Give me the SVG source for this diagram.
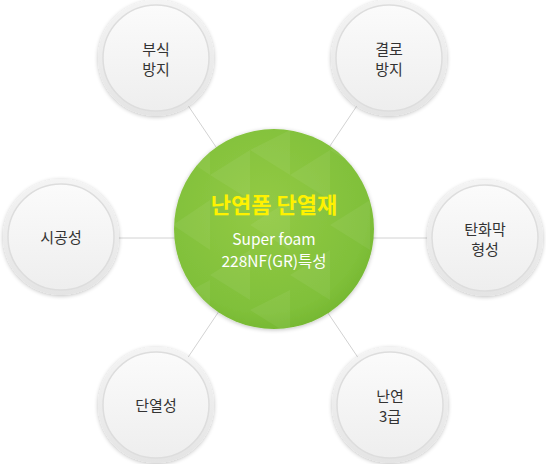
<svg xmlns="http://www.w3.org/2000/svg" width="546" height="464" viewBox="0 0 546 464">
<defs>
<radialGradient id="gBig" cx="0.45" cy="0.4" r="0.65">
<stop offset="0" stop-color="#93ca45"/>
<stop offset="0.8" stop-color="#80c03a"/>
<stop offset="1" stop-color="#72b52f"/>
</radialGradient>
<linearGradient id="gOut" x1="0" y1="0" x2="0" y2="1">
<stop offset="0" stop-color="#f4f4f4"/>
<stop offset="1" stop-color="#e4e4e4"/>
</linearGradient>
<linearGradient id="gIn" x1="0" y1="0" x2="0" y2="1">
<stop offset="0" stop-color="#fbfbfb"/>
<stop offset="1" stop-color="#eeeeee"/>
</linearGradient>
<filter id="sh" x="-20%" y="-20%" width="140%" height="140%">
<feGaussianBlur in="SourceAlpha" stdDeviation="2"/>
<feOffset dy="1"/>
<feComponentTransfer><feFuncA type="linear" slope="0.25"/></feComponentTransfer>
<feMerge><feMergeNode/><feMergeNode in="SourceGraphic"/></feMerge>
</filter>
<clipPath id="cBig"><circle cx="274" cy="229" r="100"/></clipPath>
<g id="node">
<circle r="58" fill="url(#gOut)" filter="url(#sh)"/>
<circle r="53" fill="url(#gIn)" stroke="#dddddd" stroke-width="1.5"/>
</g>
</defs>
<style>
.con{stroke:#d2d2d2;stroke-width:1;fill:none}
.lbl{font-family:"Noto Sans CJK KR","Noto Sans",sans-serif;font-size:15px;fill:#333;text-anchor:middle}
.tri{fill:#ffffff;opacity:0.06}
</style>
<g id="connectors">
<line class="con" x1="118" y1="238" x2="430" y2="238"/>
<line class="con" x1="156" y1="58" x2="390" y2="405"/>
<line class="con" x1="389" y1="58" x2="156" y2="405"/>
</g>
<g id="center">
<circle cx="274" cy="229" r="100" fill="url(#gBig)" filter="url(#sh)"/>
<g clip-path="url(#cBig)">
<polygon class="tri" points="173,150 210,130 210,175"/>
<polygon class="tri" points="210,175 250,150 250,200"/>
<polygon class="tri" points="250,150 290,130 290,175"/>
<polygon class="tri" points="290,175 330,150 330,200"/>
<polygon class="tri" points="330,150 370,130 370,175"/>
<polygon class="tri" points="173,225 210,200 210,250"/>
<polygon class="tri" points="250,225 290,200 290,250"/>
<polygon class="tri" points="330,225 370,200 370,250"/>
<polygon class="tri" points="210,275 250,250 250,300"/>
<polygon class="tri" points="290,275 330,250 330,300"/>
<polygon class="tri" points="173,300 210,280 210,330"/>
<polygon class="tri" points="250,310 290,290 290,335"/>
<polygon class="tri" points="330,310 370,290 370,335"/>
</g>
<text x="274" y="213" font-family="'Noto Sans CJK KR','Noto Sans',sans-serif" font-size="22" font-weight="bold" fill="#fff200" text-anchor="middle">난연폼 단열재</text>
<text x="274" y="245" font-family="'Noto Sans CJK KR','Noto Sans',sans-serif" font-size="15.5" fill="#ffffff" text-anchor="middle">Super foam</text>
<text x="274" y="267" font-family="'Noto Sans CJK KR','Noto Sans',sans-serif" font-size="15.5" fill="#ffffff" text-anchor="middle">228NF(GR)특성</text>
</g>
<g id="n1" transform="translate(156,58)">
<use href="#node"/>
<text class="lbl" y="-3">부식</text>
<text class="lbl" y="17">방지</text>
</g>
<g id="n2" transform="translate(389,58)">
<use href="#node"/>
<text class="lbl" y="-3">결로</text>
<text class="lbl" y="17">방지</text>
</g>
<g id="n3" transform="translate(61,237)">
<use href="#node"/>
<text class="lbl" y="6">시공성</text>
</g>
<g id="n4" transform="translate(485,238)">
<use href="#node"/>
<text class="lbl" y="-3">탄화막</text>
<text class="lbl" y="17">형성</text>
</g>
<g id="n5" transform="translate(156,405)">
<use href="#node"/>
<text class="lbl" y="6">단열성</text>
</g>
<g id="n6" transform="translate(390,405)">
<use href="#node"/>
<text class="lbl" y="-3">난연</text>
<text class="lbl" y="17">3급</text>
</g>
</svg>
